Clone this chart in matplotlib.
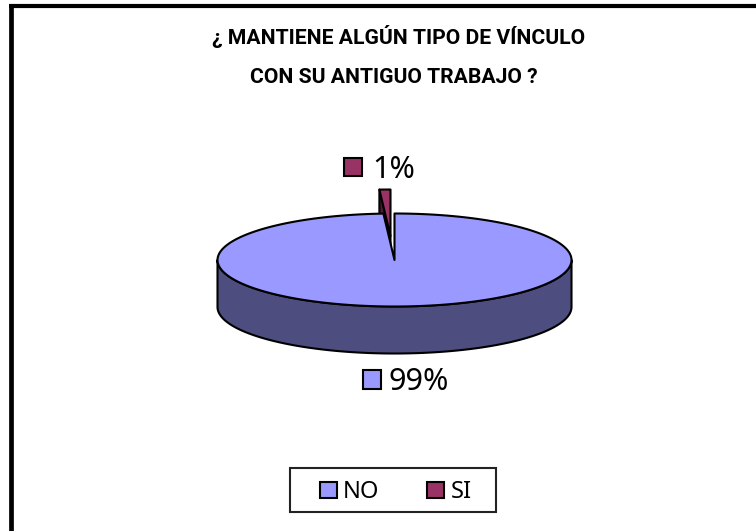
import numpy as np
import matplotlib
matplotlib.use("Agg")
import matplotlib.pyplot as plt
from matplotlib.patches import Polygon, Rectangle

categories = ["NO", "SI"]
shares = [99, 1]
pct_labels = ["99%", "1%"]
title_lines = ["¿ MANTIENE ALGÚN TIPO DE VÍNCULO", "CON SU ANTIGUO TRABAJO ?"]

col_no = "#9999ff"
col_no_dark = "#4d4d80"
col_si = "#993366"
col_si_dark = "#4d1a33"

# pie geometry in pixels
cx, cy = 394.5, 260
rx, ry = 177, 46.5
depth = 47
lw = 1.5


def arc(a0, a1, ox=0, oy=0, n=200):
    # angles clockwise from 12 o'clock, in degrees
    t = np.radians(np.linspace(a0, a1, n))
    return np.column_stack([cx + ox + rx * np.sin(t), cy + oy - ry * np.cos(t)])


def poly(ax, pts, color, z):
    ax.add_patch(Polygon(pts, closed=True, facecolor=color, edgecolor="black",
                         linewidth=lw, joinstyle="round", zorder=z))


fig = plt.figure(figsize=(7.56, 5.31), dpi=100, facecolor="white")
ax = fig.add_axes([0, 0, 1, 1])
ax.set_xlim(0, 756)
ax.set_ylim(531, 0)
ax.axis("off")

# outer frame, only top and left are visible
ax.plot([10.5, 10.5], [531, 6], color="black", lw=3.4, solid_capstyle="butt", zorder=1)
ax.plot([8.8, 756], [6, 6], color="black", lw=3.0, solid_capstyle="butt", zorder=1)

end_no = 360 * shares[0] / sum(shares)

# exploded SI slice, behind the big one
ex, ey = -4, -24
si_top = arc(end_no, 360, ex, ey, 10)
tip = np.array([cx + ex, cy + ey])
side = np.array([si_top[0], tip, tip + [0, depth], si_top[0] + [0, depth]])
poly(ax, side, col_si_dark, 2)
poly(ax, np.vstack([tip, si_top]), col_si, 3)

# NO slice: wall first (front half of the rim), then top face
front = arc(90, 270)
wall = np.vstack([front, front[::-1] + [0, depth]])
poly(ax, wall, col_no_dark, 4)
poly(ax, np.vstack([[cx, cy], arc(0, end_no)]), col_no, 5)

# data labels
font_lab = ["Noto Sans", "DejaVu Sans"]
ax.add_patch(Rectangle((344, 157.5), 18, 18.5, fc=col_si, ec="black", lw=lw, zorder=6))
ax.text(372, 177.5, pct_labels[1], fontsize=22, family=font_lab, va="baseline", ha="left")
ax.add_patch(Rectangle((362.5, 369.5), 18, 19, fc=col_no, ec="black", lw=lw, zorder=6))
ax.text(389, 389.5, pct_labels[0], fontsize=22, family=font_lab, va="baseline", ha="left")

# title
ax.text(399, 44, title_lines[0], fontsize=15.2, fontweight="bold",
        family=["Roboto", "Liberation Sans"], ha="center", va="baseline")
ax.text(394, 83, title_lines[1], fontsize=15.2, fontweight="bold",
        family=["Roboto", "Liberation Sans"], ha="center", va="baseline")

# legend box
ax.add_patch(Rectangle((290, 467.5), 206, 44.5, fc="white", ec="#222222", lw=1.5, zorder=6))
ax.add_patch(Rectangle((320, 481.5), 17, 16.5, fc=col_no, ec="black", lw=lw, zorder=7))
ax.text(343, 498, categories[0], fontsize=17, family=font_lab, va="baseline", zorder=7)
ax.add_patch(Rectangle((427, 481.5), 17, 16.5, fc=col_si, ec="black", lw=lw, zorder=7))
ax.text(451, 498, categories[1], fontsize=17, family=font_lab, va="baseline", zorder=7)

fig.savefig("out.png", dpi=100, facecolor="white")
